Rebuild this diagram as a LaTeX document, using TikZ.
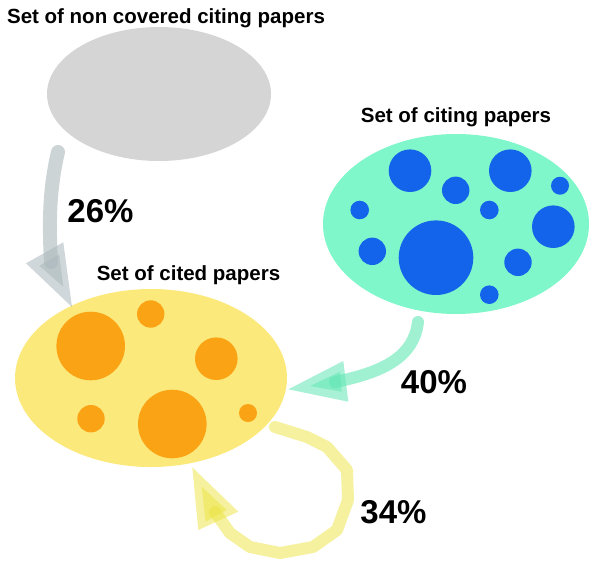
\documentclass[tikz,border=0pt]{standalone}
\usepackage{fontspec}
\setmainfont{Liberation Sans}
\usetikzlibrary{shapes.geometric}
\definecolor{grayset}{HTML}{D5D5D5}
\definecolor{greenset}{HTML}{80F7CA}
\definecolor{blueDot}{HTML}{1464EB}
\definecolor{yellowset}{HTML}{FCE97C}
\definecolor{orangeDot}{HTML}{FAA315}
\definecolor{grayArrow}{HTML}{AAB7BB}
\definecolor{greenArrow}{HTML}{61E6B4}
\definecolor{yellowArrow}{HTML}{EBE33F}
\begin{document}
\begin{tikzpicture}[x=1pt,y=-1pt]
\useasboundingbox (0,0) rectangle (591,566);
\tikzset{
  setblob/.style={ellipse, inner sep=0pt, draw=none},
  dot/.style={circle, inner sep=0pt, draw=none},
  lbl/.style={font=\bfseries\fontsize{20.5}{24}\selectfont, anchor=base, inner sep=0pt},
  pct/.style={font=\bfseries\fontsize{33}{38}\selectfont, anchor=base, inner sep=0pt},
  flow/.style={line cap=round, line join=round, opacity=0.6},
  head/.style={opacity=0.55},
}
% sets
\node[setblob, fill=grayset, minimum width=224pt, minimum height=134pt] (noncov) at (159,94) {};
\node[setblob, fill=greenset, minimum width=266pt, minimum height=180pt] (citing) at (456,224) {};
\node[setblob, fill=yellowset, minimum width=272pt, minimum height=178pt] (cited) at (151,378) {};

% blue dots
\node[dot, fill=blueDot, minimum size=42.6pt] (b1) at (410,170.7) {};
\node[dot, fill=blueDot, minimum size=42.6pt] (b2) at (510.3,170.7) {};
\node[dot, fill=blueDot, minimum size=27.4pt] (b3) at (455.7,190.3) {};
\node[dot, fill=blueDot, minimum size=18pt] (b4) at (560,185.7) {};
\node[dot, fill=blueDot, minimum size=18.6pt] (b5) at (359.7,210) {};
\node[dot, fill=blueDot, minimum size=18.6pt] (b6) at (489.3,210) {};
\node[dot, fill=blueDot, minimum size=42.6pt] (b7) at (553.3,226.7) {};
\node[dot, fill=blueDot, minimum size=27.4pt] (b8) at (372.3,251.3) {};
\node[dot, fill=blueDot, minimum size=74.6pt] (b9) at (436,257.7) {};
\node[dot, fill=blueDot, minimum size=27.4pt] (b10) at (518,262.3) {};
\node[dot, fill=blueDot, minimum size=18.6pt] (b11) at (489.3,294.7) {};

% orange dots
\node[dot, fill=orangeDot, minimum size=68.6pt] (o1) at (90.7,346) {};
\node[dot, fill=orangeDot, minimum size=27.4pt] (o2) at (150.7,314) {};
\node[dot, fill=orangeDot, minimum size=42.6pt] (o3) at (216.3,358.7) {};
\node[dot, fill=orangeDot, minimum size=27.4pt] (o4) at (91,418.7) {};
\node[dot, fill=orangeDot, minimum size=68.6pt] (o5) at (172.3,424) {};
\node[dot, fill=orangeDot, minimum size=18pt] (o6) at (248,413) {};

% labels
\node[lbl] (tnon) at (166,23) {Set of non covered citing papers};
\node[lbl] (tciting) at (456,122.5) {Set of citing papers};
\node[lbl] (tcited) at (188.5,280) {Set of cited papers};
\node[pct] (p26) at (100.5,222.5) {26\%};
\node[pct] (p40) at (434,393) {40\%};
\node[pct] (p34) at (393.5,523) {34\%};

% connector anchors
\coordinate (gS) at (58,152);
\coordinate (gE) at (51,262);
\coordinate (eS) at (418,322);
\coordinate (eE) at (335,382);
\coordinate (yS) at (275,427);
\coordinate (yE) at (215,512);

% gray arrow
\draw[flow, draw=grayArrow, line width=14pt] (gS) .. controls (49,190) and (49,225) .. (gE);
\fill[head, fill=grayArrow] (26,263.3) -- (63.3,242.3) -- (72,307) -- cycle;
\fill[head, fill=grayArrow] (39.3,265.7) -- (59.3,254.3) -- (63.3,286.7) -- cycle;

% green arrow
\draw[flow, draw=greenArrow, line width=12pt] (eS) .. controls (414,356) and (385,372) .. (eE);
\fill[head, fill=greenArrow] (288.3,389.3) -- (343.3,361) -- (348.3,401.7) -- cycle;
\fill[head, fill=greenArrow] (310,386) -- (340,371.7) -- (341.7,391.7) -- cycle;

% yellow arrow
\draw[flow, draw=yellowArrow, line width=12pt, opacity=0.5] (yS) -- (307,437) -- (327,447) -- (347,470) -- (348,500) -- (337,530) -- (313,547) -- (280,553) -- (250,547) -- (230,533) -- (yE);
\fill[head, fill=yellowArrow, opacity=0.5] (192.3,467.3) -- (238.3,511.7) -- (198.3,530) -- cycle;
\fill[head, fill=yellowArrow, opacity=0.5] (201.7,486.7) -- (226.7,510) -- (205.7,521.7) -- cycle;
\end{tikzpicture}
\end{document}
